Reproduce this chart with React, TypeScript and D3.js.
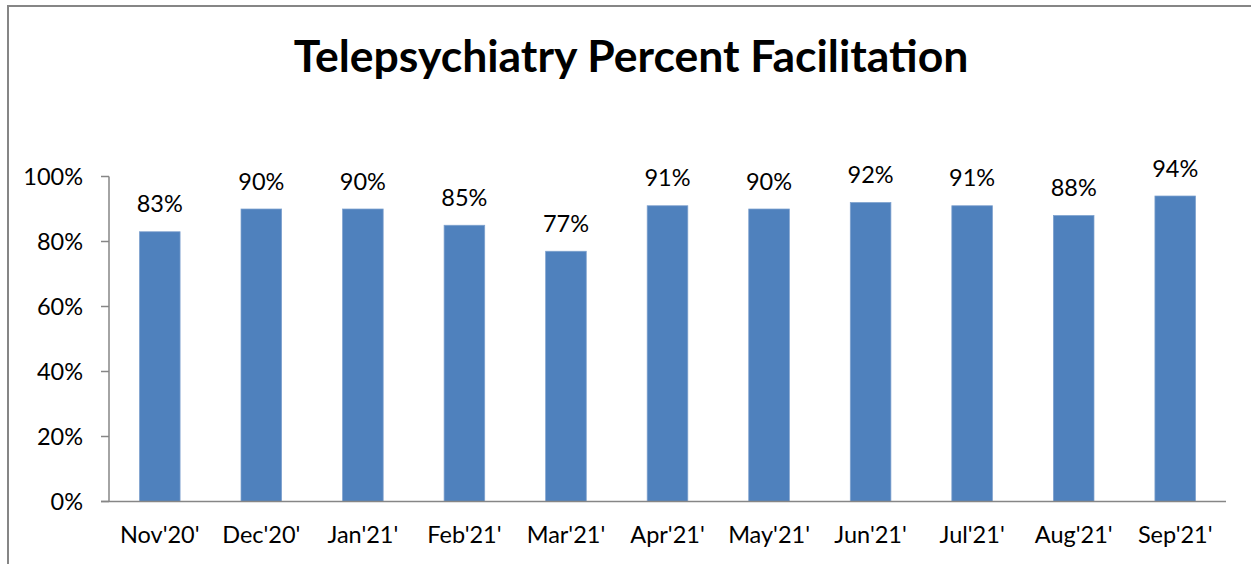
import React from "react";
import * as d3 from "d3";

const months = ["Nov'20'", "Dec'20'", "Jan'21'", "Feb'21'", "Mar'21'", "Apr'21'", "May'21'", "Jun'21'", "Jul'21'", "Aug'21'", "Sep'21'"];
const values = [0.83, 0.9, 0.9, 0.85, 0.77, 0.91, 0.9, 0.92, 0.91, 0.88, 0.94];
const yTicks = [0, 0.2, 0.4, 0.6, 0.8, 1.0];
const title = "Telepsychiatry Percent Facilitation";

const W = 1251;
const H = 564;
const FONT = "Lato, 'Open Sans', sans-serif";
const FS = 23.5;

export default function App() {
  const x = d3.scaleBand<string>().domain(months).range([109, 1226]).paddingInner(0.6).paddingOuter(0.3);
  const y = d3.scaleLinear().domain([0, 1]).range([501.5, 176.5]);
  const fmt = d3.format(".0%");
  const axisColor = "#868686";
  return (
    <div style={{ position: "fixed", left: 0, top: 0, width: W, height: H, background: "#fff" }}>
      <svg width={W} height={H} style={{ display: "block" }}>
        <rect x={0} y={0} width={W} height={H} fill="#fff" />
        {/* chart border */}
        <line x1={8} x2={W} y1={6} y2={6} stroke={axisColor} strokeWidth={2} />
        <line x1={8} x2={8} y1={5} y2={H} stroke={axisColor} strokeWidth={2} />
        <text x={631} y={72} textAnchor="middle" fontFamily={FONT} fontWeight={700} fontSize={44.5} fill="#000">
          {title}
        </text>
        {/* bars */}
        {months.map((m, i) => (
          <rect
            key={m}
            x={x(m)}
            y={y(values[i])}
            width={x.bandwidth()}
            height={y(0) - y(values[i])}
            fill="#4F81BD"
            stroke="#7EA1CE"
            strokeWidth={0.75}
          />
        ))}
        {/* y axis */}
        <line x1={109} x2={109} y1={y(1)} y2={y(0)} stroke={axisColor} strokeWidth={1.5} />
        {yTicks.map((t) => (
          <g key={t}>
            <line x1={101} x2={109} y1={y(t)} y2={y(t)} stroke={axisColor} strokeWidth={1.5} />
            <text x={83} y={y(t)} dy="0.35em" textAnchor="end" fontFamily={FONT} fontSize={FS} fill="#000">
              {fmt(t)}
            </text>
          </g>
        ))}
        {/* x axis */}
        <line x1={101} x2={1226} y1={y(0)} y2={y(0)} stroke={axisColor} strokeWidth={1.5} />
        {months.map((m) => (
          <text key={m} x={(x(m) as number) + x.bandwidth() / 2} y={543} textAnchor="middle" fontFamily={FONT} fontSize={FS} fill="#000">
            {m}
          </text>
        ))}
        {/* data labels */}
        {months.map((m, i) => (
          <text key={m} x={(x(m) as number) + x.bandwidth() / 2} y={y(values[i]) - 19.5} textAnchor="middle" fontFamily={FONT} fontSize={FS} fill="#000">
            {fmt(values[i])}
          </text>
        ))}
      </svg>
    </div>
  );
}
